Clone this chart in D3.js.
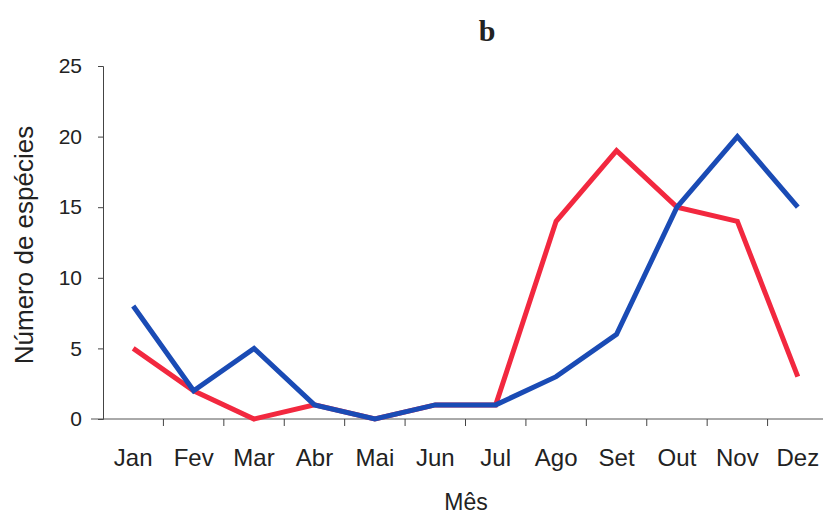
<!doctype html>
<html>
<head>
<meta charset="UTF-8">
<title>Número de espécies por mês</title>
<style>
  body { margin: 0; background: #fff; }
  svg text { font-family: "Liberation Sans", Arial, sans-serif; fill: #222; }
</style>
<script src="https://d3js.org/d3.v7.min.js"></script>
</head>
<body>
<svg id="chart" width="823" height="515"></svg>
<script>
// data
var months = ["Jan", "Fev", "Mar", "Abr", "Mai", "Jun", "Jul", "Ago", "Set", "Out", "Nov", "Dez"];
var redSeries = [5, 2, 0, 1, 0, 1, 1, 14, 19, 15, 14, 3];
var blueSeries = [8, 2, 5, 1, 0, 1, 1, 3, 6, 15, 20, 15];
var yTicks = [0, 5, 10, 15, 20, 25];

var svg = d3.select("#chart");
var plotLeft = 103, plotRight = 828, plotTop = 66, plotBottom = 419;

var x = d3.scaleBand().domain(months).range([plotLeft, plotRight]);
var y = d3.scaleLinear().domain([0, 25]).range([plotBottom, plotTop]);

// y axis
var yAxis = svg.append("g")
    .attr("transform", "translate(" + plotLeft + ",0)")
    .call(d3.axisLeft(y).tickValues(yTicks).tickSize(5).tickPadding(16));
yAxis.select(".domain").attr("stroke", "#444").attr("stroke-width", 1);
yAxis.selectAll(".tick line").attr("stroke", "#444");
yAxis.selectAll("text").attr("font-size", "21px").attr("fill", "#222");

// x axis, ticks sit on category boundaries
var xAxis = svg.append("g")
    .attr("transform", "translate(0," + plotBottom + ")")
    .call(d3.axisBottom(x).tickSize(0).tickPadding(30));
xAxis.select(".domain").attr("d", "M" + (plotLeft - 12) + ",0H" + plotRight).attr("stroke", "#555").attr("stroke-width", 1);
xAxis.selectAll("text").attr("font-size", "24px").attr("fill", "#222");
xAxis.selectAll(".tick line").remove();
svg.append("g").selectAll("line")
    .data(months.slice(1))
    .enter().append("line")
    .attr("x1", function(d) { return x(d); })
    .attr("x2", function(d) { return x(d); })
    .attr("y1", plotBottom)
    .attr("y2", plotBottom + 7)
    .attr("stroke", "#444");

// lines (blue drawn over red)
var line = d3.line()
    .x(function(d, i) { return x(months[i]) + x.bandwidth() / 2; })
    .y(function(d) { return y(d); });

svg.append("path")
    .datum(redSeries)
    .attr("d", line)
    .attr("fill", "none")
    .attr("stroke", "#f2283f")
    .attr("stroke-width", 5)
    .attr("stroke-linejoin", "miter");

svg.append("path")
    .datum(blueSeries)
    .attr("d", line)
    .attr("fill", "none")
    .attr("stroke", "#1a4bb5")
    .attr("stroke-width", 5)
    .attr("stroke-linejoin", "miter");

// labels
svg.append("text")
    .attr("x", 466).attr("y", 510)
    .attr("text-anchor", "middle")
    .attr("font-size", "23px")
    .text("Mês");

svg.append("text")
    .attr("transform", "translate(33,245) rotate(-90)")
    .attr("text-anchor", "middle")
    .attr("font-size", "26px")
    .text("Número de espécies");

svg.append("text")
    .attr("x", 487).attr("y", 41)
    .attr("text-anchor", "middle")
    .attr("font-size", "30px")
    .attr("font-weight", "bold")
    .style("font-family", "'Liberation Serif', 'Times New Roman', serif")
    .text("b");
</script>
</body>
</html>
